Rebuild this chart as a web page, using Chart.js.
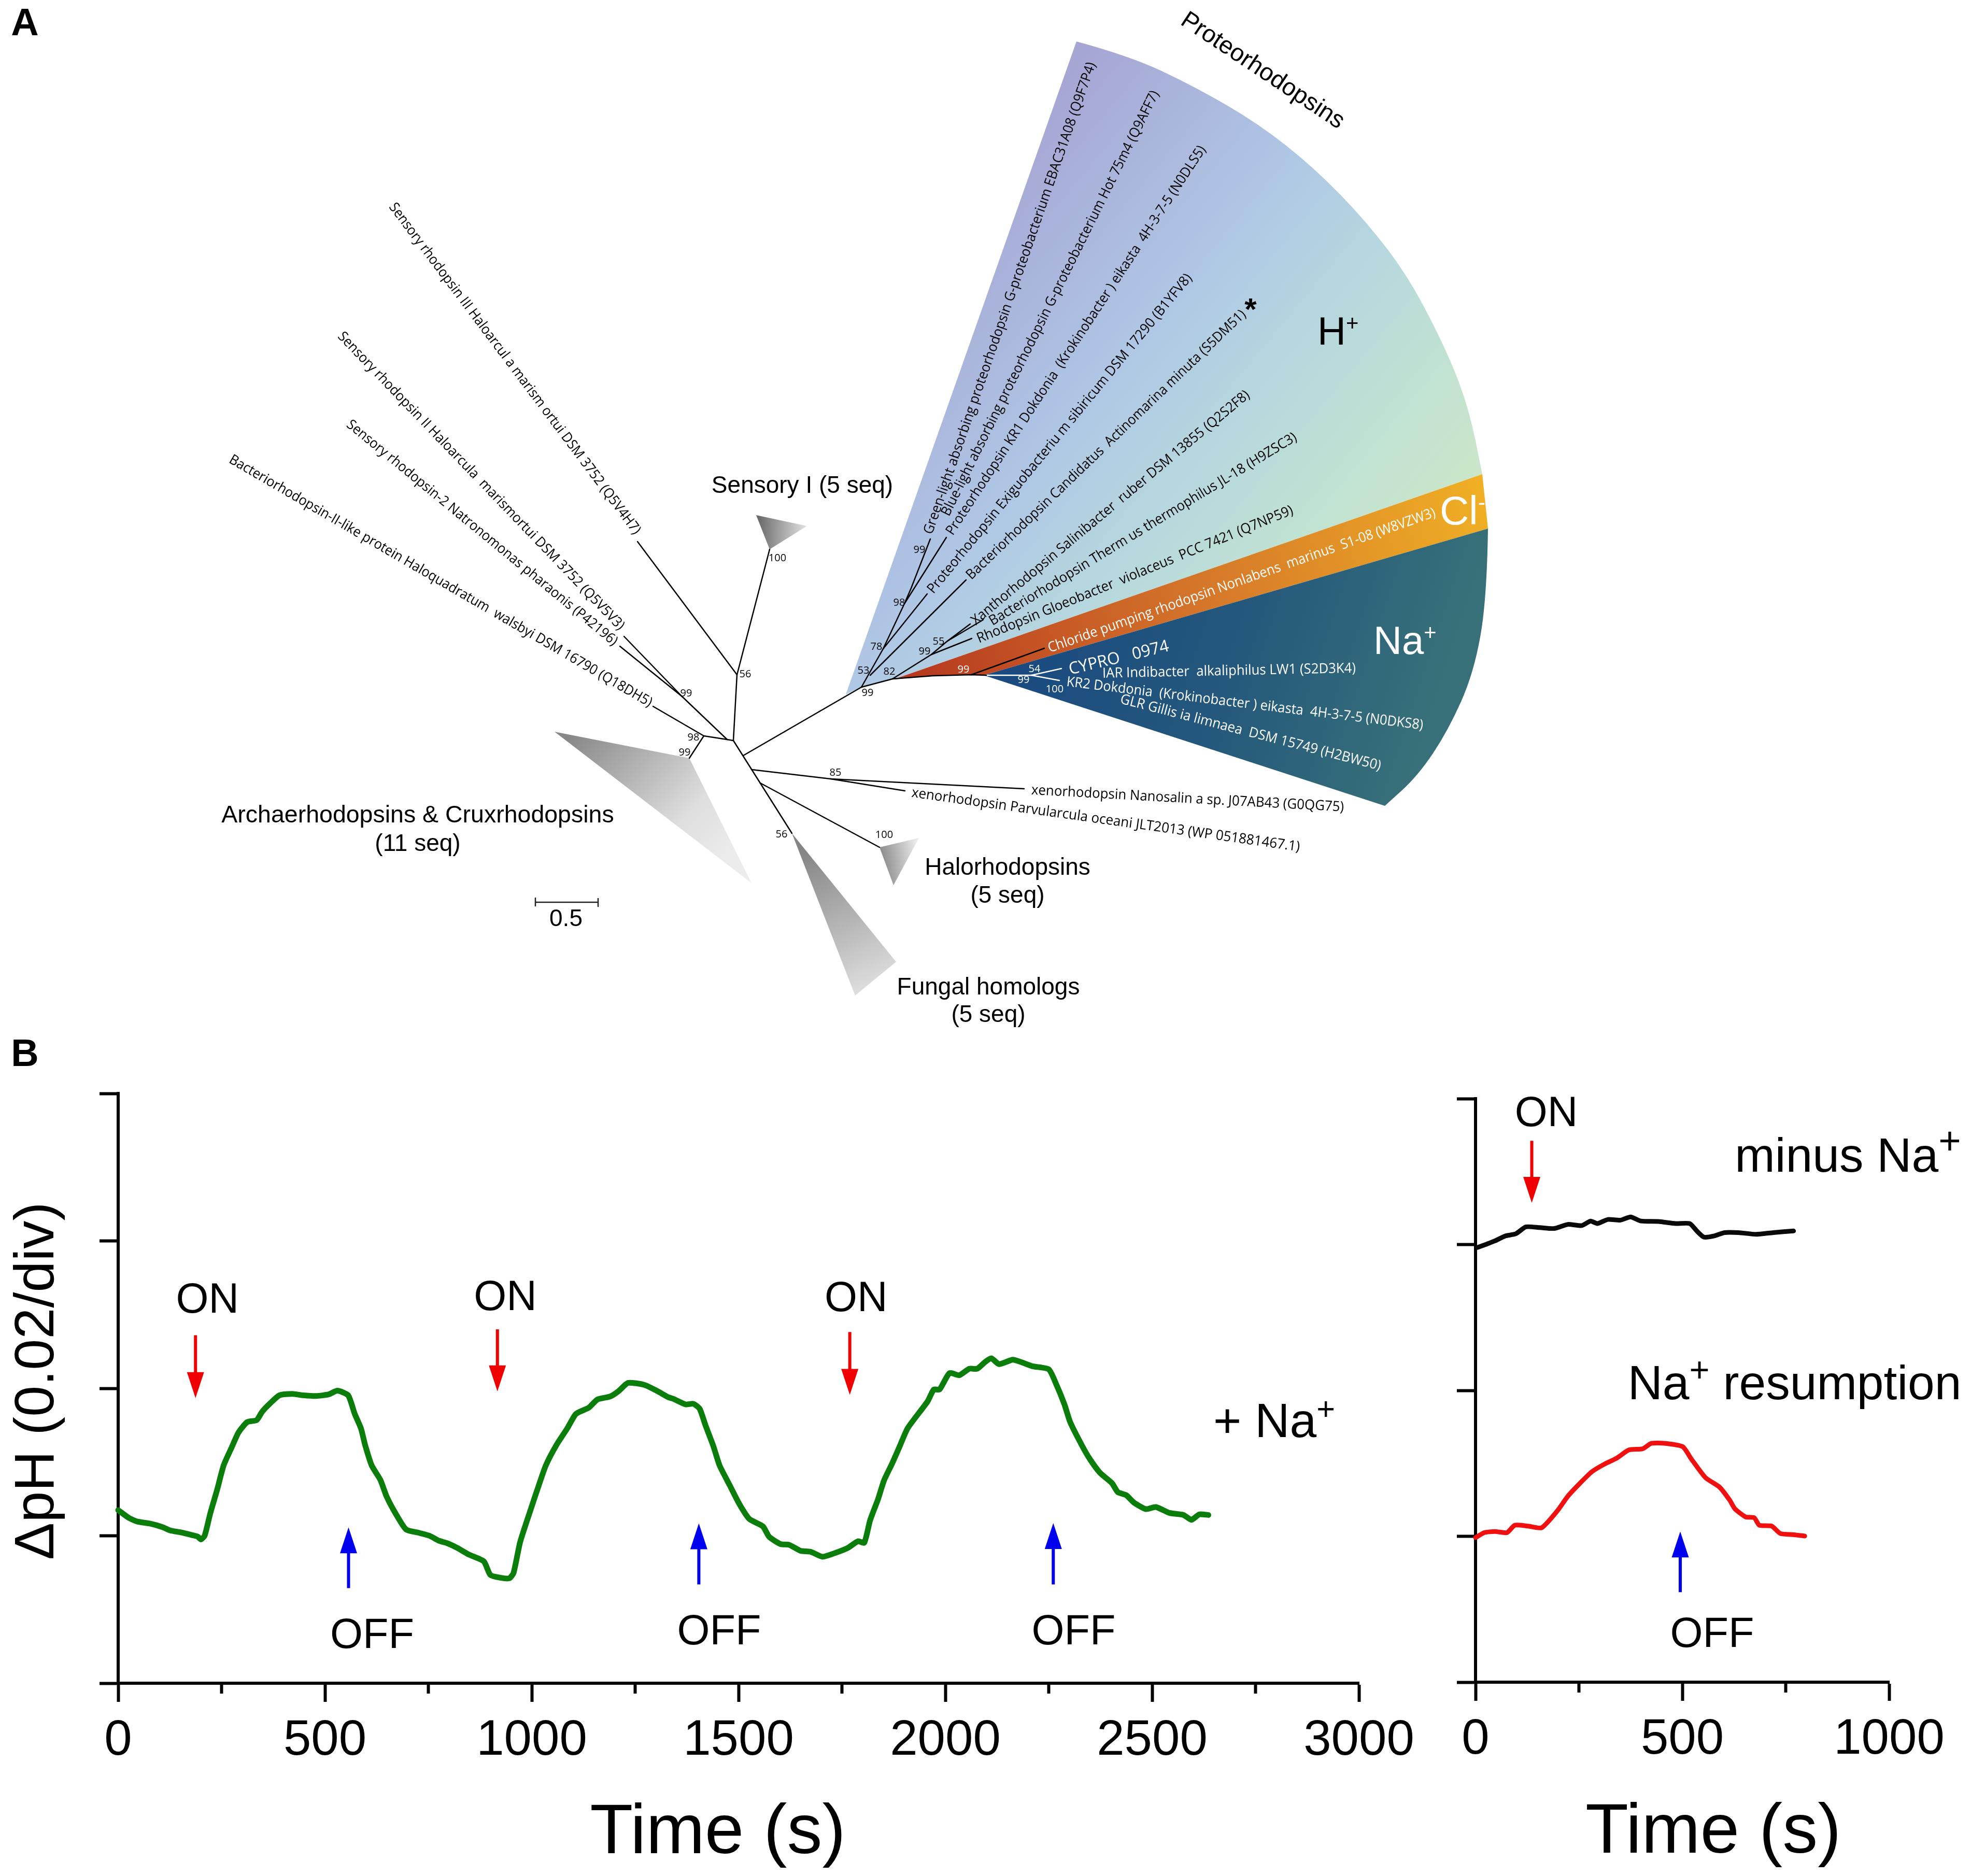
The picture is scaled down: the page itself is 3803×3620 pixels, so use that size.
<!DOCTYPE html>
<html>
<head>
<meta charset="utf-8">
<title>Rhodopsin tree and pH traces</title>
<script src="https://cdn.jsdelivr.net/npm/chart.js@4"></script>
<style>
html, body { margin: 0; padding: 0; background: #fff; }
#page { position: relative; width: 3803px; height: 3620px; overflow: hidden; background: #fff; }
canvas { position: absolute; }
</style>
</head>
<body>
<div id="page">
<canvas id="tree" width="3803" height="2100" style="left:0;top:0"></canvas>
<canvas id="traceLeft" width="2760" height="1580" style="left:0;top:2040px"></canvas>
<canvas id="traceRight" width="1043" height="1580" style="left:2760px;top:2040px"></canvas>
</div>
<script>
// panel B, + Na+ trace: [time s, pH divisions]
const plusNaTime = [0,26,47,78,107,125,151,177,192,200,209,223,239,255,275,291,312,335,348,367,390,421,447,478,509,530,556,572,587,597,613,634,649,670,696,727,753,775,795,821,847,884,900,925,946,956,972,998,1013,1034,1060,1086,1107,1138,1159,1190,1210,1233,1273,1304,1330,1343,1372,1391,1406,1420,1439,1454,1478,1502,1526,1559,1574,1602,1622,1650,1674,1703,1732,1765,1789,1804,1818,1837,1852,1871,1890,1909,1957,1972,1986,2010,2034,2058,2077,2096,2111,2130,2163,2187,2211,2250,2269,2288,2302,2331,2350,2374,2403,2417,2437,2456,2485,2509,2542,2576,2595,2614,2636];
const plusNaValue = [1.174,1.121,1.096,1.082,1.059,1.037,1.023,1.006,.995,.975,1.0,1.155,1.309,1.477,1.603,1.701,1.771,1.785,1.841,1.897,1.953,1.962,1.953,1.948,1.959,1.984,1.953,1.827,1.729,1.617,1.477,1.379,1.267,1.155,1.043,1.02,1.0,.967,.95,.916,.874,.827,.734,.715,.712,.748,.958,1.183,1.309,1.477,1.617,1.729,1.827,1.869,1.925,1.945,1.981,2.037,2.023,1.981,1.94,1.928,1.891,1.895,1.861,1.75,1.609,1.478,1.346,1.215,1.114,1.064,.993,.943,.939,.898,.892,.858,.882,.919,.963,.953,1.104,1.246,1.377,1.488,1.609,1.73,1.911,1.992,1.992,2.103,2.089,2.133,2.133,2.178,2.204,2.164,2.194,2.174,2.15,2.129,2.022,1.891,1.77,1.609,1.518,1.427,1.357,1.296,1.276,1.225,1.181,1.195,1.155,1.141,1.108,1.145,1.141];

// right panel traces
const minusNaTime = [5,26,47,72,97,122,156,190,223,257,278,295,320,350,375,400,442,484,518,535,552,577,602,636,678,720,769];
const minusNaValue = [2.98,3.002,3.025,3.059,3.073,3.121,3.116,3.11,3.138,3.13,3.161,3.144,3.172,3.167,3.189,3.161,3.158,3.144,3.144,3.093,3.051,3.059,3.082,3.082,3.07,3.082,3.093];
const resumeTime = [0,21,47,76,95,127,160,198,223,253,282,312,341,371,404,425,459,501,522,556,590,615,627,653,674,686,716,737,770,796];
const resumeValue = [.991,1.025,1.033,1.025,1.076,1.07,1.059,1.175,1.274,1.365,1.444,1.495,1.535,1.592,1.6,1.637,1.637,1.614,1.529,1.402,1.337,1.246,1.189,1.133,1.127,1.076,1.07,1.019,1.011,1.002];

const leftMinorTicks = [250,750,1250,1750,2250,2750];
const rightMinorTicks = [250,750];

// light arrows: [time, tail value, tip value]
const leftOnArrows = [[187,2.36,1.934],[917,2.40,1.98],[1769,2.382,1.956]];
const leftOffArrows = [[557,.645,1.057],[1404,.67,1.084],[2261,.67,1.086]];
const rightOnArrows = [[136,3.711,3.286]];
const rightOffArrows = [[495,.617,1.033]];

// panel A in figure units
const treeBranches = [
  [[1403,1427],[1415,1429]],
  [[1358,1420],[1403,1427]],
  [[1260,1363],[1358,1420]],
  [[1358,1420],[1330,1463]],
  [[1415,1429],[1422,1302]],
  [[1422,1302],[1485,1060]],
  [[1422,1302],[1230,1045]],
  [[1403,1427],[1316,1344]],
  [[1316,1344],[1204,1228]],
  [[1316,1344],[1196,1247]],
  [[1415,1429],[1528,1608]],
  [[1434,1458],[1662,1326]],
  [[1450,1485],[1603,1503]],
  [[1603,1503],[1976,1522]],
  [[1603,1503],[1746,1526]],
  [[1467,1511],[1697,1635]],
  [[1662,1326],[1722,1310],[1800,1304],[1874,1302],[1903,1303]],
  [[1662,1326],[1704,1252],[1745,1165],[1758,1135],[1795,1040]],
  [[1745,1165],[1826,1037]],
  [[1704,1252],[1789,1146]],
  [[1679,1303],[1864,1119]],
  [[1722,1310],[1797,1263],[1828,1237],[1872,1204]],
  [[1828,1237],[1897,1196]],
  [[1797,1263],[1875,1232]],
  [[1874,1302],[2015,1251]]
];
const whiteBranches = [
  [[1903,1303],[1990,1303]],
  [[1990,1303],[2048,1290]],
  [[1990,1303],[2044,1313]]
];
const scaleBar = [[1033,1733],[1033,1749],[1033,1741],[1154,1741],[1154,1733],[1154,1749]];

const protonArc = [[2077,80],[2180,108],[2305,167],[2429,239],[2537,325],[2636,427],[2719,536],[2794,682],[2835,791],[2860,915]];
const sodiumArc = [[2871,1020],[2869,1155],[2844,1298],[2794,1410],[2736,1497],[2672,1555]];
const protonEdge = [[1632,1340]];
const protonBack = [[1724,1311],[1662,1326]];
const chlorideEdge = [[1724,1311],[2860,915],[2871,1020],[1898,1303],[1870,1302],[1800,1304]];
const sodiumEdge = [[1898,1303]];

const sensoryTriangle = [[1459,994],[1557,1015],[1485,1060]];
const archaeTriangle = [[1070,1412],[1330,1463],[1450,1704]];
const haloTriangle = [[1697,1635],[1773,1617],[1724,1708]];
const fungalTriangle = [[1528,1608],[1729,1856],[1650,1921]];

// leaf names: text, start, end
const leafNames = ['Green-light absorbing proteorhodopsin G-proteobacterium EBAC31A08 (Q9F7P4)','Blue-light absorbing proteorhodopsin G-proteobacterium Hot 75m4 (Q9AFF7)','Proteorhodopsin KR1 Dokdonia  (Krokinobacter ) eikasta  4H-3-7-5 (N0DLS5)','Proteorhodopsin Exiguobacteriu m sibiricum DSM 17290 (B1YFV8)','Bacteriorhodopsin Candidatus  Actinomarina minuta (S5DM51)','Xanthorhodopsin Salinibacter  ruber DSM 13855 (Q2S2F8)','Bacteriorhodopsin Therm us thermophilus JL-18 (H9ZSC3)','Rhodopsin Gloeobacter  violaceus  PCC 7421 (Q7NP59)','xenorhodopsin Nanosalin a sp. J07AB43 (G0QG75)','xenorhodopsin Parvularcula oceani JLT2013 (WP 051881467.1)','Sensory rhodopsin III Haloarcul a marism ortui DSM 3752 (Q5V4H7)','Sensory rhodopsin II Haloarcula  marismortui DSM 3752 (Q5V5V3)','Sensory rhodopsin-2 Natronomonas pharaonis (P42196)','Bacteriorhodopsin-II-like protein Haloquadratum  walsbyi DSM 16790 (Q18DH5)'];
const leafSpans = [[1791,1030,2107,121],[1824,994,2230,177],[1832,1030,2321,284],[1795,1142,2295,532],[1869,1114,2400,603],[1878,1201,2408,759],[1911,1201,2500,842],[1886,1234,2494,984],[1990,1525,2593,1558],[1759,1530,2508,1635],[756,395,1230,1028],[656,645,1200,1212],[672,816,1188,1241],[444,885,1256,1358]];
const whiteLeafNames = ['Chloride pumping rhodopsin Nonlabens  marinus  S1-08 (W8VZW3)','CYPRO   0974','IAR Indibacter  alkaliphilus LW1 (S2D3K4)','KR2 Dokdonia  (Krokinobacter ) eikasta  4H-3-7-5 (N0DKS8)','GLR Gillis ia limnaea  DSM 15749 (H2BW50)'];
const whiteLeafSpans = [[2023,1252,2769,989],[2063,1293,2255,1247],[2127,1300,2616,1290],[2058,1316,2746,1400],[2162,1349,2664,1479]];

const supportValues = ['100','56','99','98','99','85','100','56','99','99','98','78','55','99','53','82'];
const supportSpots = [[1500,1077],[1438,1301],[1324,1338],[1338,1423],[1321,1452],[1612,1491],[1706,1611],[1508,1610],[1674,1337],[1774,1061],[1735,1163],[1691,1248],[1811,1238],[1784,1257],[1666,1294],[1716,1296]];
const whiteSupportValues = ['99','54','99','100'];
const whiteSupportSpots = [[1859,1292],[1996,1291],[1975,1312],[2035,1330]];

const sansFont = '"Liberation Sans", Arial, sans-serif';
const leafFont = '"Open Sans", "Noto Sans", sans-serif';

function px(chart, p) {
  return [chart.scales.x.getPixelForValue(p[0]), chart.scales.y.getPixelForValue(p[1])];
}

function gradient(ctx, chart, a, b, stops) {
  const pa = px(chart, a), pb = px(chart, b);
  const g = ctx.createLinearGradient(pa[0], pa[1], pb[0], pb[1]);
  stops.forEach(s => g.addColorStop(s[0], s[1]));
  return g;
}

function fillShape(chart, first, arc, last, fill) {
  const ctx = chart.ctx;
  ctx.beginPath();
  first.forEach((p, i) => {
    const q = px(chart, p);
    if (i === 0) ctx.moveTo(q[0], q[1]); else ctx.lineTo(q[0], q[1]);
  });
  if (arc.length) {
    const s = px(chart, arc[0]);
    ctx.lineTo(s[0], s[1]);
    for (let i = 1; i < arc.length - 1; i++) {
      const c = px(chart, arc[i]), n = px(chart, arc[i + 1]);
      ctx.quadraticCurveTo(c[0], c[1], (c[0] + n[0]) / 2, (c[1] + n[1]) / 2);
    }
    const e = px(chart, arc[arc.length - 1]);
    ctx.lineTo(e[0], e[1]);
  }
  last.forEach(p => {
    const q = px(chart, p);
    ctx.lineTo(q[0], q[1]);
  });
  ctx.closePath();
  ctx.fillStyle = fill;
  ctx.fill();
}

// stretch the string so it runs exactly between two read-off points
function spanText(chart, text, span, size, color) {
  const ctx = chart.ctx;
  const a = px(chart, [span[0], span[1]]), b = px(chart, [span[2], span[3]]);
  const len = Math.hypot(b[0] - a[0], b[1] - a[1]);
  ctx.save();
  ctx.font = size + 'px ' + leafFont;
  ctx.fillStyle = color;
  ctx.textAlign = 'center';
  ctx.textBaseline = 'middle';
  ctx.translate((a[0] + b[0]) / 2, (a[1] + b[1]) / 2);
  ctx.rotate(Math.atan2(b[1] - a[1], b[0] - a[0]));
  ctx.scale(len / ctx.measureText(text).width, 1);
  ctx.fillText(text, 0, 0);
  ctx.restore();
}

function putText(chart, text, x, y, size, opts) {
  opts = opts || {};
  const ctx = chart.ctx;
  const p = px(chart, [x, y]);
  ctx.save();
  ctx.font = (opts.bold ? 'bold ' : '') + size + 'px ' + (opts.font || sansFont);
  ctx.fillStyle = opts.color || '#000';
  ctx.textAlign = opts.align || 'center';
  ctx.textBaseline = opts.baseline || 'middle';
  ctx.translate(p[0], p[1]);
  if (opts.angle) ctx.rotate(opts.angle);
  ctx.fillText(text, 0, 0);
  if (opts.sup) {
    const w = ctx.measureText(text).width;
    ctx.font = (size * (opts.supScale || 0.72)) + 'px ' + sansFont;
    ctx.textAlign = 'left';
    ctx.fillText(opts.sup, w, -size * 0.36);
    if (opts.after) {
      const w2 = ctx.measureText(opts.sup).width;
      ctx.font = size + 'px ' + sansFont;
      ctx.fillText(opts.after, w + w2, 0);
    }
  }
  ctx.restore();
}

const treeArt = {
  id: 'treeArt',
  beforeDatasetsDraw(chart) {
    const ctx = chart.ctx;
    fillShape(chart, protonEdge, protonArc, protonBack, gradient(ctx, chart, [1990,230], [2839,938],
      [[0,'#a6a6d4'],[0.39,'#afc7e5'],[0.62,'#b6d8de'],[0.82,'#c0e2d2'],[1,'#cbe6c9']]));
    fillShape(chart, chlorideEdge, [], [], gradient(ctx, chart, [1724,1300], [2870,950],
      [[0,'#b5361f'],[0.5,'#d4752a'],[1,'#f0b024']]));
    fillShape(chart, sodiumEdge, sodiumArc, [], gradient(ctx, chart, [2000,1150], [2750,1400],
      [[0,'#1a4a80'],[0.5,'#24587c'],[1,'#387079']]));
    fillShape(chart, sensoryTriangle, [], [], gradient(ctx, chart, [1459,1010], [1557,1015], [[0,'#666'],[1,'#e2e2e2']]));
    fillShape(chart, archaeTriangle, [], [], gradient(ctx, chart, [1120,1400], [1400,1660], [[0,'#888'],[0.7,'#dedede'],[1,'#ececec']]));
    fillShape(chart, haloTriangle, [], [], gradient(ctx, chart, [1697,1650], [1770,1640], [[0,'#888'],[1,'#eaeaea']]));
    fillShape(chart, fungalTriangle, [], [], gradient(ctx, chart, [1560,1640], [1680,1900], [[0,'#858585'],[1,'#dcdcdc']]));
  },
  afterDatasetsDraw(chart) {
    leafNames.forEach((t, i) => spanText(chart, t, leafSpans[i], 27, '#000'));
    whiteLeafNames.forEach((t, i) => spanText(chart, t, whiteLeafSpans[i], i === 1 ? 32 : 27, '#fff'));
    supportValues.forEach((t, i) => putText(chart, t, supportSpots[i][0], supportSpots[i][1], 20, {font: leafFont}));
    whiteSupportValues.forEach((t, i) => putText(chart, t, whiteSupportSpots[i][0], whiteSupportSpots[i][1], 20, {font: leafFont, color: '#fff'}));

    putText(chart, 'A', 48, 48, 74, {bold: true});
    putText(chart, 'B', 48, 2037, 74, {bold: true});
    putText(chart, 'Proteorhodopsins', 2436, 137, 47, {angle: Math.atan2(205, 308)});
    putText(chart, 'Sensory I (5 seq)', 1548, 938, 46);
    putText(chart, 'Archaerhodopsins & Cruxrhodopsins', 806, 1574, 46.5);
    putText(chart, '(11 seq)', 806, 1629, 46);
    putText(chart, 'Halorhodopsins', 1944, 1675, 46);
    putText(chart, '(5 seq)', 1944, 1729, 46);
    putText(chart, 'Fungal homologs', 1907, 1906, 46);
    putText(chart, '(5 seq)', 1907, 1959, 46);
    putText(chart, '0.5', 1092, 1774, 46);
    putText(chart, '*', 2413, 600, 60, {bold: true});
    putText(chart, 'H', 2542, 665, 76, {align: 'left', baseline: 'alphabetic', sup: '+', supScale: 0.55});
    putText(chart, 'Cl', 2778, 1012, 78, {align: 'left', baseline: 'alphabetic', color: '#fff', sup: '-', supScale: 0.55});
    putText(chart, 'Na', 2650, 1262, 76, {align: 'left', baseline: 'alphabetic', color: '#fff', sup: '+', supScale: 0.55});
  }
};

new Chart(document.getElementById('tree'), {
  type: 'scatter',
  data: {
    datasets: treeBranches.map(b => branchSet(b, '#000', 2.5))
      .concat(whiteBranches.map(b => branchSet(b, '#fff', 2.5)))
      .concat([branchSet(scaleBar, '#222', 2.5)])
  },
  options: {
    animation: false,
    responsive: false,
    events: [],
    plugins: { legend: { display: false }, tooltip: { enabled: false } },
    scales: {
      x: { type: 'linear', display: false, min: 0, max: 3803 },
      y: { type: 'linear', display: false, min: 0, max: 2100, reverse: true }
    }
  },
  plugins: [treeArt]
});

function branchSet(points, color, width) {
  return {
    data: points.map(p => ({x: p[0], y: p[1]})),
    showLine: true,
    pointRadius: 0,
    borderColor: color,
    borderWidth: width,
    borderCapStyle: 'round',
    clip: false
  };
}

function arrows(chart, list, color) {
  const ctx = chart.ctx;
  ctx.save();
  ctx.fillStyle = color;
  list.forEach(a => {
    const x = chart.scales.x.getPixelForValue(a[0]);
    const tail = chart.scales.y.getPixelForValue(a[1]);
    const tip = chart.scales.y.getPixelForValue(a[2]);
    const dir = tip > tail ? 1 : -1;
    ctx.fillRect(x - 3, Math.min(tail, tip - dir * 45), 6, Math.abs(tip - dir * 45 - tail));
    ctx.beginPath();
    ctx.moveTo(x, tip);
    ctx.lineTo(x - 16.5, tip - dir * 50);
    ctx.lineTo(x + 16.5, tip - dir * 50);
    ctx.closePath();
    ctx.fill();
  });
  ctx.restore();
}

function minorTicks(chart, list) {
  const ctx = chart.ctx;
  const y = chart.scales.x.top;
  ctx.save();
  ctx.strokeStyle = '#000';
  ctx.lineWidth = 6;
  list.forEach(v => {
    const x = chart.scales.x.getPixelForValue(v);
    ctx.beginPath();
    ctx.moveTo(x, y);
    ctx.lineTo(x, y + 20);
    ctx.stroke();
  });
  ctx.restore();
}

function traceSet(times, values, color, width) {
  return {
    data: times.map((t, i) => ({x: t, y: values[i]})),
    showLine: true,
    borderColor: color,
    borderWidth: width,
    pointRadius: 0,
    tension: 0.2,
    borderJoinStyle: 'round',
    borderCapStyle: 'round',
    clip: false
  };
}

function axes(xMax, yWidth, xHeight) {
  return {
    x: {
      type: 'linear', min: 0, max: xMax,
      afterFit: s => { s.height = xHeight; s.paddingLeft = 0; s.paddingRight = 0; },
      ticks: { stepSize: 500, color: '#000', padding: 18, maxRotation: 0, autoSkip: false, font: { family: sansFont, size: 96 }, callback: v => String(v) },
      grid: { drawOnChartArea: false, tickLength: 36, tickWidth: 6, tickColor: '#000' },
      border: { color: '#000', width: 6 }
    },
    y: {
      type: 'linear', min: 0, max: 4,
      afterFit: s => { s.width = yWidth; s.paddingTop = 0; s.paddingBottom = 0; },
      ticks: { stepSize: 1, display: false },
      grid: { drawOnChartArea: false, tickLength: 36, tickWidth: 6, tickColor: '#000' },
      border: { color: '#000', width: 6 }
    }
  };
}

new Chart(document.getElementById('traceLeft'), {
  type: 'scatter',
  data: { datasets: [traceSet(plusNaTime, plusNaValue, '#0a7d0a', 11)] },
  options: {
    animation: false,
    responsive: false,
    events: [],
    layout: { padding: { top: 70, right: 138, left: 0, bottom: 0 } },
    plugins: { legend: { display: false }, tooltip: { enabled: false } },
    scales: axes(3000, 228, 372)
  },
  plugins: [{
    id: 'leftNotes',
    afterDraw(chart) {
      minorTicks(chart, leftMinorTicks);
      arrows(chart, leftOnArrows, '#f00000');
      arrows(chart, leftOffArrows, '#0000f0');
      putText(chart, 'ON', 216, 2.592, 81);
      putText(chart, 'ON', 936, 2.608, 81);
      putText(chart, 'ON', 1784, 2.602, 81);
      putText(chart, 'OFF', 614, .316, 81);
      putText(chart, 'OFF', 1453, .341, 81);
      putText(chart, 'OFF', 2310, .341, 81);
      putText(chart, '+ Na', 2648, 1.67, 93, {align: 'left', baseline: 'alphabetic', sup: '+', supScale: 0.66});
      putText(chart, 'Time (s)', 1450, -1.02, 136);
      putText(chart, '\u0394pH (0.02/div)', -194, 2.05, 108, {angle: -Math.PI / 2});
    }
  }]
});

new Chart(document.getElementById('traceRight'), {
  type: 'scatter',
  data: {
    datasets: [
      traceSet(minusNaTime, minusNaValue, '#0a0a0a', 9),
      traceSet(resumeTime, resumeValue, '#f01010', 9)
    ]
  },
  options: {
    animation: false,
    responsive: false,
    events: [],
    layout: { padding: { top: 80, right: 158, left: 0, bottom: 0 } },
    plugins: { legend: { display: false }, tooltip: { enabled: false } },
    scales: axes(1000, 87, 374)
  },
  plugins: [{
    id: 'rightNotes',
    afterDraw(chart) {
      minorTicks(chart, rightMinorTicks);
      arrows(chart, rightOnArrows, '#f00000');
      arrows(chart, rightOffArrows, '#0000f0');
      putText(chart, 'ON', 171, 3.892, 81);
      putText(chart, 'OFF', 572, .322, 81);
      putText(chart, 'minus Na', 627, 3.5, 93, {align: 'left', baseline: 'alphabetic', sup: '+', supScale: 0.8});
      putText(chart, 'Na', 368, 1.94, 93, {align: 'left', baseline: 'alphabetic', sup: '+', supScale: 0.72, after: ' resumption'});
      putText(chart, 'Time (s)', 575, -1.037, 136);
    }
  }]
});
</script>
</body>
</html>
